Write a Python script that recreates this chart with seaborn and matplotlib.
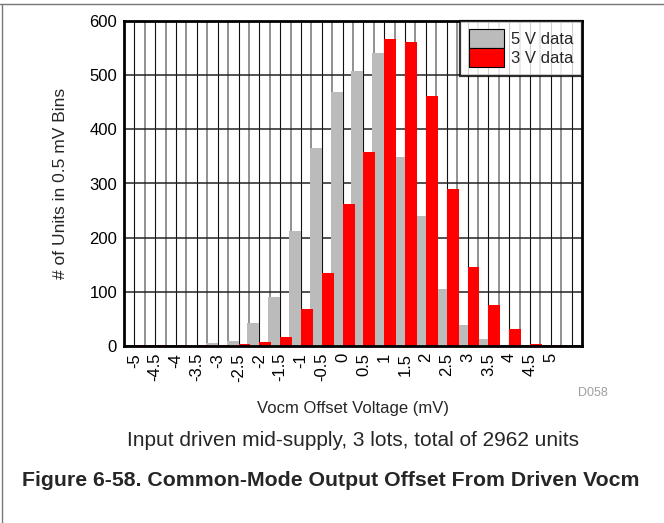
import matplotlib
matplotlib.use("Agg")
import matplotlib.pyplot as plt
from matplotlib.lines import Line2D
from matplotlib.patches import Patch
import numpy as np
import pandas as pd
import seaborn as sns

# Histogram bins (mV) and unit counts per bin
offsets = ["-5", "-4.5", "-4", "-3.5", "-3", "-2.5", "-2", "-1.5", "-1", "-0.5",
           "0", "0.5", "1", "1.5", "2", "2.5", "3", "3.5", "4", "4.5", "5"]
counts_5v = [0, 0, 0, 1, 5, 9, 43, 90, 212, 366,
             469, 508, 540, 349, 240, 105, 38, 13, 0, 0, 0]
counts_3v = [1, 1, 1, 1, 1, 4, 7, 17, 68, 135,
             263, 359, 566, 561, 462, 289, 146, 76, 31, 3, 1]
series_names = ["5 V data", "3 V data"]
series_colors = ["#bbbbbb", "#ff0000"]
y_ticks = [0, 100, 200, 300, 400, 500, 600]

df = pd.DataFrame({
    "offset": offsets * 2,
    "count": counts_5v + counts_3v,
    "supply": [series_names[0]] * len(offsets) + [series_names[1]] * len(offsets),
})

sns.set_style("white")
plt.rcParams["font.family"] = ["Liberation Sans", "DejaVu Sans"]

fig = plt.figure(figsize=(6.64, 5.23), dpi=100)
W, H = 664, 523
ax = fig.add_axes([124 / W, 1 - 346 / H, 458 / W, 325 / H])

sns.barplot(data=df, x="offset", y="count", hue="supply", order=offsets,
            hue_order=series_names, palette=series_colors, saturation=1,
            width=1.15, dodge=True, linewidth=0, errorbar=None, legend=False,
            ax=ax, zorder=3)

n = len(offsets)
ax.set_xlim(-0.5, n + 0.5)
ax.set_ylim(0, 600)

# Grid: dark lines on bin centres, grey lines between bins
ax.set_xticks(np.arange(n + 1))
ax.set_xticklabels(offsets + [""], rotation=90, fontsize=12)
ax.set_xticks(np.arange(0.5, n + 0.5, 1), minor=True)
ax.set_yticks(y_ticks)
ax.set_yticklabels([str(v) for v in y_ticks], fontsize=12)
ax.grid(which="major", axis="x", color="#111111", linewidth=0.8, zorder=0)
ax.grid(which="minor", axis="x", color="#888888", linewidth=1.3, zorder=0)
ax.grid(which="major", axis="y", color="#222222", linewidth=1.1, zorder=0)
ax.set_axisbelow(True)
ax.tick_params(axis="both", which="both", length=0, colors="black")
ax.tick_params(axis="y", pad=5)
ax.tick_params(axis="x", pad=5)

for side in ["left", "right", "top", "bottom"]:
    ax.spines[side].set_visible(True)
    ax.spines[side].set_color("black")
    ax.spines[side].set_linewidth(2.0)
    ax.spines[side].set_zorder(5)

ax.set_ylabel("# of Units in 0.5 mV Bins", fontsize=12.5)
ax.yaxis.set_label_coords(-0.122, 0.5)
ax.set_xlabel("")

handles = [Patch(facecolor=c, edgecolor="black", linewidth=0.8) for c in series_colors]
leg = ax.legend(handles, series_names, loc="upper right", bbox_to_anchor=(1.0, 1.0),
                borderaxespad=0, frameon=True, fancybox=False, fontsize=12,
                handlelength=2.1, handleheight=1.38, labelspacing=0.0,
                handletextpad=0.45, borderpad=0.5)
leg.get_frame().set_edgecolor("black")
leg.get_frame().set_linewidth(1.6)
leg.set_zorder(6)

fig.text(593 / W, 1 - 393 / H, "D058", ha="center", va="center",
         fontsize=9, color="#a0a0a0")
fig.text(353 / W, 1 - 409 / H, "Vocm Offset Voltage (mV)", ha="center",
         va="center", fontsize=12)
fig.text(353 / W, 1 - 440 / H, "Input driven mid-supply, 3 lots, total of 2962 units",
         ha="center", va="center", fontsize=15)
fig.text(331 / W, 1 - 481 / H, "Figure 6-58. Common-Mode Output Offset From Driven Vocm",
         ha="center", va="center", fontsize=15.3, fontweight="bold")

# Page frame lines
fig.add_artist(Line2D([0, 1], [1 - 4 / H, 1 - 4 / H], transform=fig.transFigure,
                      color="#777777", linewidth=1.0))
fig.add_artist(Line2D([1.5 / W, 1.5 / W], [0, 1 - 4 / H], transform=fig.transFigure,
                      color="#777777", linewidth=1.0))

fig.savefig("out.png", dpi=100)
